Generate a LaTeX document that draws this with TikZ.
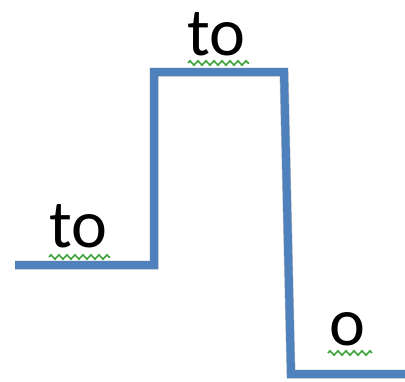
\documentclass[tikz,border=0pt]{standalone}
\usepackage{fontspec}
\setmainfont{Carlito}
\usetikzlibrary{decorations.pathmorphing}
\definecolor{stepblue}{HTML}{4F81BD}
\definecolor{squig}{HTML}{3DA33D}
\tikzset{
  stepline/.style={draw=stepblue, line width=8pt, line join=miter},
  shadowline/.style={draw=black, line width=9pt, opacity=0.12},
  word/.style={inner sep=0pt, anchor=base, font=\fontsize{68}{68}\selectfont},
  squiggle/.style={draw=squig, line width=1.6pt, decorate, decoration={zigzag, segment length=8pt, amplitude=2.2pt}}
}
\begin{document}
\begin{tikzpicture}[x=1pt,y=-1pt]
\useasboundingbox (0,0) rectangle (405,381);
\coordinate (p0) at (15,265);
\coordinate (p1) at (154,265);
\coordinate (p2) at (154,72);
\coordinate (p3) at (284,72);
\coordinate (p4) at (291,374);
\coordinate (p5) at (410,374);
\begin{scope}[shift={(3,5)}]
\draw[shadowline] (p0) -- (p1) -- (p2) -- (p3) -- (p4) -- (p5);
\end{scope}
\begin{scope}[shift={(2,3)}]
\draw[shadowline] (p0) -- (p1) -- (p2) -- (p3) -- (p4) -- (p5);
\end{scope}
\draw[stepline] (p0) -- (p1) -- (p2) -- (p3) -- (p4) -- (p5);
\node[word] (t1) at (78,247) {to};
\node[word] (t2) at (216,55) {to};
\node[word] (t3) at (347,345) {o};
\draw[squiggle] (49,257) -- (110,257);
\draw[squiggle] (188,63) -- (249,63);
\draw[squiggle] (328,353) -- (372,353);
\end{tikzpicture}
\end{document}
